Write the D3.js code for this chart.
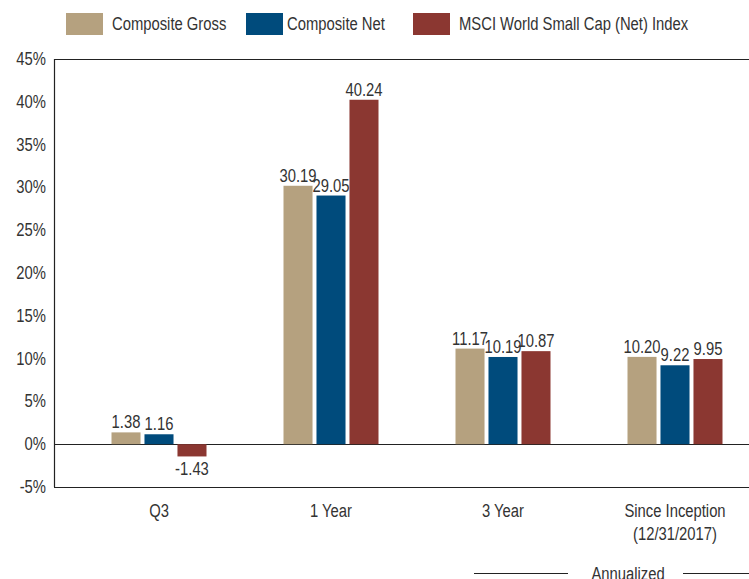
<!DOCTYPE html>
<html>
<head>
<meta charset="utf-8">
<script src="https://cdn.jsdelivr.net/npm/d3@7"></script>
<style>
  html, body { margin: 0; padding: 0; background: #fff; }
  svg text { font-family: "Liberation Sans", Arial, sans-serif; fill: #333; }
</style>
</head>
<body>
<svg id="chart" width="749" height="579"></svg>
<script>
const categories = ["Q3", "1 Year", "3 Year", "Since Inception|(12/31/2017)"];
const seriesNames = ["Composite Gross", "Composite Net", "MSCI World Small Cap (Net) Index"];
const seriesColors = ["#B5A17F", "#004B7C", "#8B3731"];
const compositeGross = [1.38, 30.19, 11.17, 10.20];
const compositeNet = [1.16, 29.05, 10.19, 9.22];
const msciIndex = [-1.43, 40.24, 10.87, 9.95];
const yTicks = [-5, 0, 5, 10, 15, 20, 25, 30, 35, 40, 45];
const valueLabels = [
  ["1.38", "30.19", "11.17", "10.20"],
  ["1.16", "29.05", "10.19", "9.22"],
  ["-1.43", "40.24", "10.87", "9.95"]
];

const seriesValues = [compositeGross, compositeNet, msciIndex];
const svg = d3.select("#chart");
const SX = 0.78;

// condensed text helper
function ctext(x, yv, str, size, anchor) {
  const g = svg.append("g").attr("transform", `translate(${x},${yv}) scale(${SX},1)`);
  g.append("text")
    .attr("x", 0).attr("y", 0)
    .attr("text-anchor", anchor || "start")
    .attr("font-size", size)
    .text(str);
  return g;
}

const left = 54, right = 749;
const y = d3.scaleLinear().domain([-5, 45]).range([487, 59]);
const x0 = d3.scalePoint().domain(categories).range([159, 675]);
const x1 = d3.scaleBand().domain(seriesNames).range([-47.5, 47.5]).paddingInner(0.12);

// horizontal lines: top, zero, bottom
[45, 0, -5].forEach(v => {
  svg.append("line")
    .attr("x1", left).attr("x2", right)
    .attr("y1", Math.round(y(v)) + 0.5).attr("y2", Math.round(y(v)) + 0.5)
    .attr("stroke", "#222").attr("stroke-width", 1.2);
});
// y axis line
svg.append("line")
  .attr("x1", left + 0.5).attr("x2", left + 0.5)
  .attr("y1", y(45)).attr("y2", y(-5))
  .attr("stroke", "#222").attr("stroke-width", 1.2);

// y tick labels
yTicks.forEach(d => {
  ctext(46, y(d) + 6, d + "%", 19, "end");
});

// bars
seriesNames.forEach((name, si) => {
  const g = svg.append("g");
  categories.forEach((cat, ci) => {
    const v = seriesValues[si][ci];
    const bx = x0(cat) + x1(name);
    g.append("rect")
      .attr("x", bx)
      .attr("y", Math.min(y(v), y(0)))
      .attr("width", x1.bandwidth())
      .attr("height", Math.abs(y(v) - y(0)))
      .attr("fill", seriesColors[si]);
    ctext(bx + x1.bandwidth() / 2, v >= 0 ? y(v) - 4 : y(v) + 19, valueLabels[si][ci], 19, "middle");
  });
});

// category labels
categories.forEach(cat => {
  const lines = cat.split("|");
  lines.forEach((ln, i) => {
    ctext(x0(cat), 517 + i * 23, ln, 19, "middle");
  });
});

// legend
const legendX = [66, 246, 413];
seriesNames.forEach((name, i) => {
  svg.append("rect")
    .attr("x", legendX[i]).attr("y", 13)
    .attr("width", 37).attr("height", 22)
    .attr("fill", seriesColors[i]);
  ctext(legendX[i] + (i === 1 ? 41 : 46), 30, name, 19, "start");
});

// Annualized
svg.append("line").attr("x1", 474).attr("x2", 568).attr("y1", 573.5).attr("y2", 573.5).attr("stroke", "#222");
svg.append("line").attr("x1", 683).attr("x2", 749).attr("y1", 573.5).attr("y2", 573.5).attr("stroke", "#222");
ctext(628, 580, "Annualized", 19, "middle");
</script>
</body>
</html>
